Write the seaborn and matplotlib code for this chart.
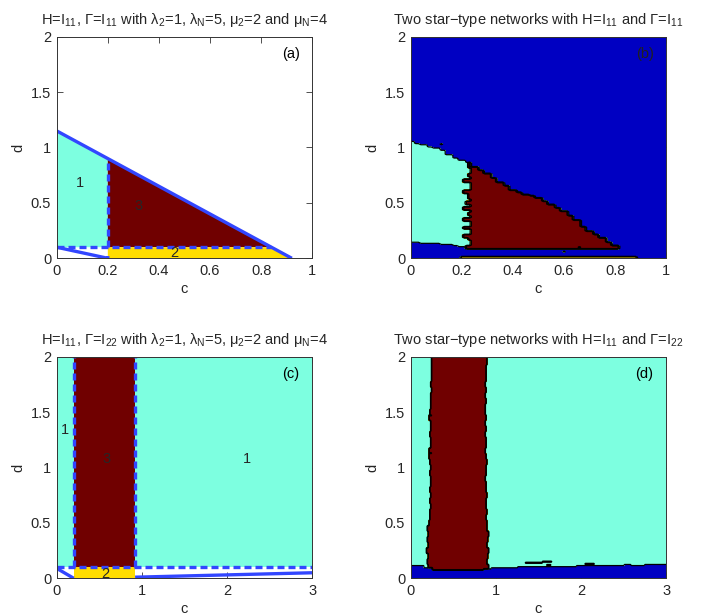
import numpy as np
import matplotlib
matplotlib.use('Agg')
import matplotlib.pyplot as plt
import seaborn as sns

# MATLAB-like look
sns.set_style('ticks')
plt.rcParams['font.family'] = ['Liberation Sans', 'DejaVu Sans']
plt.rcParams['mathtext.fontset'] = 'custom'
plt.rcParams['mathtext.rm'] = 'Liberation Sans'
plt.rcParams['mathtext.it'] = 'Liberation Sans:italic'
plt.rcParams['axes.edgecolor'] = '0.2'
plt.rcParams['axes.linewidth'] = 0.7

BLUE = '#0000c2'
CYAN = '#7dffe0'
YELLOW = '#ffdd00'
DARKRED = '#700000'
LINE = '#3246ff'
FILLS = [BLUE, CYAN, YELLOW, DARKRED]

# ---- (a) theory, H=I11, Gamma=I11
a_line_c = [0.0, 0.92]          # outer solid boundary
a_line_d = [1.15, 0.0]
a_c_split = 0.2                  # dashed vertical
a_d_split = 0.1                  # dashed horizontal
a_low_c = [0.0, 0.2, 0.2]        # small solid boundary near the origin
a_low_d = [0.1, 0.0, 0.02]
a_labels = ['1', '3', '2']
a_label_c = [0.09, 0.32, 0.46]
a_label_d = [0.68, 0.47, 0.045]

# ---- (c) theory, H=I11, Gamma=I22
c_band = [0.2, 0.92]             # dashed verticals
c_d_split = 0.1
c_low1_c = [0.0, 0.2]
c_low1_d = [0.09, 0.0]
c_low2_c = [0.92, 3.0]
c_low2_d = [0.01, 0.05]
c_labels = ['1', '3', '1', '2']
c_label_c = [0.1, 0.58, 2.23, 0.57]
c_label_d = [1.34, 1.08, 1.08, 0.04]

# ---- (b) simulation, classes 0 blue, 1 cyan, 2 yellow, 3 dark red
# top / bottom of the coloured region, sampled every 0.025 in c
b_top = [1.06, 1.04, 1.03, 1.01, 1.00, 0.98, 0.94, 0.91, 0.89, 0.87,
         0.83, 0.80, 0.77, 0.73, 0.69, 0.66, 0.62, 0.60, 0.58, 0.57,
         0.55, 0.52, 0.49, 0.46, 0.43, 0.39, 0.35, 0.29, 0.25, 0.22,
         0.19, 0.15, 0.12, 0, 0, 0, 0, 0, 0, 0, 0]
b_bottom = [0.15, 0.15, 0.14, 0.14, 0.14, 0.13, 0.13, 0.12, 0.11, 0.09,
            0.09, 0.09, 0.09, 0.09, 0.09, 0.09, 0.09, 0.09, 0.09, 0.09,
            0.09, 0.09, 0.09, 0.09, 0.09, 0.09, 0.09, 0.09, 0.09, 0.09,
            0.09, 0.09, 0.09, 0.09, 0.09, 0.09, 0.09, 0.09, 0.09, 0.09, 0.09]
# cyan / dark red split in c, sampled every 0.025 in d from 0.1 to 0.9
b_split = [0.22, 0.24, 0.24, 0.23, 0.21, 0.24, 0.24, 0.21, 0.24, 0.24,
           0.21, 0.24, 0.23, 0.24, 0.21, 0.24, 0.22, 0.24, 0.23, 0.23,
           0.21, 0.24, 0.24, 0.24, 0.21, 0.24, 0.23, 0.24, 0.24, 0.23,
           0.23, 0.22, 0.22]
b_floor_c = [0.2, 0.88]          # thin class-2 strip along the c axis
b_floor_d = 0.01
b_spot_c = [0.66, 0.60, 0.12]
b_spot_d = [0.10, 0.06, 1.03]
b_spot_v = [2, 1, 1]

# ---- (d) simulation
# left / right edge of the dark red band, sampled every 0.05 in d
d_left = [0.22, 0.22, 0.21, 0.20, 0.21, 0.19, 0.21, 0.20, 0.21, 0.20,
          0.22, 0.23, 0.23, 0.24, 0.23, 0.24, 0.23, 0.24, 0.24, 0.23,
          0.24, 0.23, 0.22, 0.22, 0.24, 0.24, 0.23, 0.24, 0.24, 0.22,
          0.23, 0.24, 0.24, 0.24, 0.25, 0.24, 0.25, 0.25, 0.25, 0.25, 0.25]
d_right = [0.90, 0.90, 0.91, 0.89, 0.90, 0.91, 0.89, 0.90, 0.91, 0.89,
           0.89, 0.88, 0.89, 0.88, 0.88, 0.89, 0.88, 0.88, 0.87, 0.88,
           0.88, 0.89, 0.88, 0.87, 0.88, 0.88, 0.87, 0.88, 0.87, 0.88,
           0.87, 0.87, 0.88, 0.87, 0.88, 0.87, 0.88, 0.88, 0.88, 0.89, 0.89]
# top of the blue strip, sampled every 0.1 in c
d_bottom = [0.12, 0.12, 0.10, 0.08, 0.08, 0.08, 0.08, 0.08, 0.08, 0.09,
            0.10, 0.10, 0.10, 0.11, 0.11, 0.11, 0.11, 0.11, 0.11, 0.11,
            0.12, 0.12, 0.12, 0.12, 0.12, 0.12, 0.12, 0.12, 0.13, 0.13, 0.13]
d_spot_c = [0.23, 0.23, 1.45, 1.60, 1.62, 2.10, 2.55]
d_spot_d = [1.47, 1.13, 0.14, 0.15, 0.12, 0.13, 0.12]
d_spot_w = [0.01, 0.01, 0.10, 0.06, 0.03, 0.06, 0.04]
d_spot_v = [2, 2, 0, 0, 0, 0, 0]

titles = [
    'H=I$_{11}$, \u0393=I$_{11}$ with \u03bb$_2$=1, \u03bb$_\\mathrm{N}$=5, '
    '\u03bc$_2$=2 and \u03bc$_\\mathrm{N}$=4',
    'Two star\u2212type networks with H=I$_{11}$ and \u0393=I$_{11}$',
    'H=I$_{11}$, \u0393=I$_{22}$ with \u03bb$_2$=1, \u03bb$_\\mathrm{N}$=5, '
    '\u03bc$_2$=2 and \u03bc$_\\mathrm{N}$=4',
    'Two star\u2212type networks with H=I$_{11}$ and \u0393=I$_{22}$',
]
tags = ['(a)', '(b)', '(c)', '(d)']

fig = plt.figure(figsize=(7.08, 6.16), dpi=100)
W, H = 708, 616
boxes = [(56.7, 36.7), (410.7, 36.7), (56.7, 356.7), (410.7, 356.7)]
axes = [fig.add_axes([x / W, 1 - (y + 221.6) / H, 255.6 / W, 221.6 / H])
        for x, y in boxes]


def solid(ax, xs, ys):
    sns.lineplot(x=xs, y=ys, ax=ax, sort=False, estimator=None,
                 color=LINE, linewidth=2.4, solid_capstyle='butt')


def dashed(ax, xs, ys):
    sns.lineplot(x=xs, y=ys, ax=ax, sort=False, estimator=None,
                 color=LINE, linewidth=2.4, linestyle=(0, (2.1, 1.2)))


def field(ax, C, D, Z):
    ax.contourf(C, D, Z, levels=[-0.5, 0.5, 1.5, 2.5, 3.5], colors=FILLS)
    ax.contour(C, D, Z, levels=[0.5, 1.5, 2.5], colors='k', linewidths=0.9)


# (a)
ax = axes[0]
d_at = lambda c: np.interp(c, a_line_c, a_line_d)
c_at = np.interp(a_d_split, a_line_d[::-1], a_line_c[::-1])
cs, ds = a_c_split, a_d_split
ax.fill([0, cs, cs, 0], [ds, ds, d_at(cs), a_line_d[0]], color=CYAN, lw=0)
ax.fill([cs, c_at, cs], [ds, ds, d_at(cs)], color=DARKRED, lw=0)
ax.fill([cs, a_line_c[1], c_at, cs], [0, 0, ds, ds], color=YELLOW, lw=0)
dashed(ax, [0, c_at], [ds, ds])
dashed(ax, [cs, cs], [ds, d_at(cs)])
solid(ax, a_line_c, a_line_d)
solid(ax, a_low_c, a_low_d)
for t, x, y in zip(a_labels, a_label_c, a_label_d):
    ax.text(x, y, t, ha='center', va='center', fontsize=10.5)

# (b)
ax = axes[1]
C, D = np.meshgrid(np.linspace(0, 1, 101), np.linspace(0, 2, 201))
ic = np.rint(C / 0.025).astype(int)
top = np.array(b_top)[ic]
bot = np.array(b_bottom)[ic]
split = np.array(b_split)[np.clip(np.rint((D - 0.1) / 0.025).astype(int), 0, len(b_split) - 1)]
inside = (D >= bot) & (D < top)
Z = np.zeros_like(C)
Z[inside & (C < split)] = 1
Z[inside & (C >= split)] = 3
Z[(D <= b_floor_d + 1e-9) & (C >= b_floor_c[0]) & (C <= b_floor_c[1])] = 2
for x, y, v in zip(b_spot_c, b_spot_d, b_spot_v):
    Z[(np.abs(C - x) < 0.006) & (np.abs(D - y) < 0.006)] = v
field(ax, C, D, Z)

# (c)
ax = axes[2]
ax.fill([0, 3, 3, 0], [c_d_split, c_d_split, 2, 2], color=CYAN, lw=0)
ax.fill([c_band[0], c_band[1], c_band[1], c_band[0]], [c_d_split, c_d_split, 2, 2],
        color=DARKRED, lw=0)
ax.fill([c_band[0], c_band[1], c_band[1], c_band[0]], [0, 0, c_d_split, c_d_split],
        color=YELLOW, lw=0)
dashed(ax, [0, 3], [c_d_split, c_d_split])
for cb in c_band:
    dashed(ax, [cb, cb], [c_d_split, 2])
solid(ax, c_low1_c, c_low1_d)
solid(ax, c_low2_c, c_low2_d)
for t, x, y in zip(c_labels, c_label_c, c_label_d):
    ax.text(x, y, t, ha='center', va='center', fontsize=10.5)

# (d)
ax = axes[3]
C, D = np.meshgrid(np.linspace(0, 3, 301), np.linspace(0, 2, 201))
idd = np.rint(D / 0.05).astype(int)
left = np.array(d_left)[idd]
right = np.array(d_right)[idd]
bot = np.array(d_bottom)[np.rint(C / 0.1).astype(int)]
Z = np.ones_like(C)
Z[(C >= left) & (C <= right)] = 3
Z[D < bot] = 0
for x, y, w, v in zip(d_spot_c, d_spot_d, d_spot_w, d_spot_v):
    Z[(np.abs(C - x) <= w) & (np.abs(D - y) < 0.006)] = v
field(ax, C, D, Z)

for i, ax in enumerate(axes):
    xmax = 1 if i < 2 else 3
    ax.set_xlim(0, xmax)
    ax.set_ylim(0, 2)
    if xmax == 1:
        ax.set_xticks([0, 0.2, 0.4, 0.6, 0.8, 1])
        ax.set_xticklabels(['0', '0.2', '0.4', '0.6', '0.8', '1'])
    else:
        ax.set_xticks([0, 1, 2, 3])
        ax.set_xticklabels(['0', '1', '2', '3'])
    ax.set_yticks([0, 0.5, 1, 1.5, 2])
    ax.set_yticklabels(['0', '0.5', '1', '1.5', '2'])
    ax.tick_params(direction='in', top=True, right=True, length=4, width=0.6,
                   labelsize=10.5, color='0.2', pad=4)
    for s in ax.spines.values():
        s.set_visible(True)
    ax.set_xlabel('c', fontsize=10.5, labelpad=3)
    ax.set_ylabel('d', fontsize=10.5, labelpad=4)
    ax.set_title(titles[i], fontsize=10.5, pad=9)
    ax.text(0.915 * xmax, 1.84, tags[i], ha='center', va='center', fontsize=10.5,
            color='k' if i in (0, 2, 3) else '#202020')

fig.savefig('out.png', dpi=100)
